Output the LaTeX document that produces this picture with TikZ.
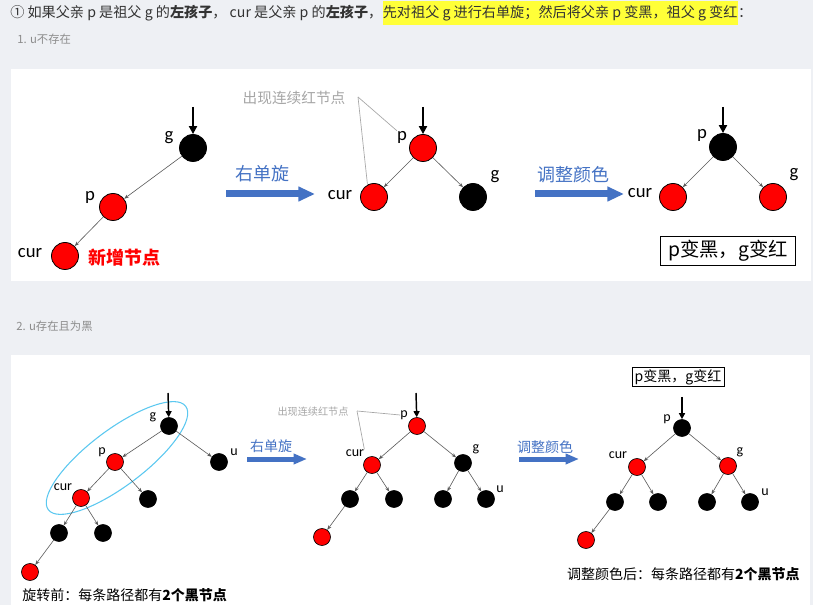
\documentclass[tikz,border=0pt]{standalone}
\usepackage{fontspec}
\setmainfont{Carlito}
\newfontfamily\cjk{Noto Sans CJK SC}
\usetikzlibrary{arrows.meta}
\definecolor{pagebg}{HTML}{EEF0F4}
\definecolor{rotblue}{HTML}{4472C4}
\definecolor{ringblue}{HTML}{5BC8F0}
\definecolor{notegray}{HTML}{A6A6A6}
\definecolor{hilite}{HTML}{FFFF38}
\definecolor{txtgray}{HTML}{333333}
\tikzset{
  big/.style={circle,draw=black,line width=0.6pt,inner sep=0pt,minimum size=20.25pt},
  small/.style={circle,draw=black,line width=0.5pt,inner sep=0pt,minimum size=12.75pt},
  edge/.style={draw=black!65,line width=0.45pt,-{Stealth[length=3.5pt,width=2.6pt]}},
  entry/.style={line width=1.4pt,-{Triangle[length=6pt,width=6pt]}},
  entrys/.style={line width=1.1pt,-{Triangle[length=4.5pt,width=4.5pt]}},
  rot/.style={draw=rotblue,line width=5.25pt,-{Triangle[length=12.5pt,width=10.5pt]}},
  rots/.style={draw=rotblue,line width=3.75pt,-{Triangle[length=10pt,width=7.5pt]}},
  labA/.style={font=\normalfont\fontsize{14}{14}\selectfont,inner sep=0pt},
  labB/.style={font=\normalfont\fontsize{10.5}{10.5}\selectfont,inner sep=0pt},
  note/.style={notegray,line width=0.5pt},
  hdr/.style={font=\cjk\fontsize{10.6}{12}\selectfont,text=txtgray,inner xsep=0pt},
}
\begin{document}
\begin{tikzpicture}[x=0.75pt,y=-0.75pt,font=\cjk]
\path[use as bounding box,fill=pagebg] (0,0) rectangle (813,605);
\fill[white] (11,69) rectangle (811,281);
\fill[white] (11,355) rectangle (810,605);

% heading lines
\node[hdr,anchor=west] (h1) at (10,13) {① 如果父亲 p 是祖父 g 的\textbf{左孩子}， cur 是父亲 p 的\textbf{左孩子}，};
\node[hdr,anchor=west,fill=hilite] (h2) at (h1.east) {先对祖父 g 进行右单旋；然后将父亲 p 变黑，祖父 g 变红};
\node[hdr,anchor=west] (h3) at (h2.east) {：};
\node[anchor=west,inner sep=0pt,text=black!45,font=\cjk\fontsize{8.5}{10}\selectfont] (s1) at (17,39) {1. u不存在};
\node[anchor=west,inner sep=0pt,text=black!45,font=\cjk\fontsize{8.5}{10}\selectfont] (s2) at (16,326) {2. u存在且为黑};

% case 1: u does not exist
\foreach \n/\x/\y/\c in {gA/193/148/black,pA/113/207/red,cA/65/256/red,
  pB/423/148/red,cB/374/197/red,gB/473/197/black,
  pC/723/147/black,cC/673/197/red,gC/773/197/red}
  \node[big,fill=\c] (\n) at (\x,\y) {};
\foreach \a/\b in {gA/pA,pA/cA,pB/cB,pB/gB,pC/cC,pC/gC}
  \draw[edge] (\a) -- (\b);
\foreach \n/\x/\y/\t in {lgA/169/138/g,lpA/90/197/p,lcA/30/253/cur,
  lpB/402/137/p,lcB/340/195/cur,lgB/495/177/g,
  lpC/702/135/p,lcC/640/193/cur,lgC/794/175/g}
  \node[labA] (\n) at (\x,\y) {\t};
\foreach \n/\x/\r in {A/193/gA,B/423/pB,C/723/pC}{
  \coordinate (in\n) at (\x,107);
  \draw[entry] (in\n) -- (\r);
}
\node[text=red,font=\cjk\bfseries\fontsize{13.5}{14}\selectfont,inner sep=0pt] (newA) at (124,258) {新增节点};
\node[text=notegray,font=\cjk\fontsize{11}{12}\selectfont,inner sep=0pt] (noteB) at (294,98) {出现连续红节点};
\coordinate (tipB) at (358,97);
\draw[note] (tipB) -- (cB.118);
\draw[note] (tipB) -- (lpB.north west);
\node[draw=black,line width=0.8pt,minimum width=101pt,minimum height=22pt,inner sep=0pt,
  font=\cjk\fontsize{14.5}{15}\selectfont] (boxC) at (728,251) {p变黑，g变红};

\coordinate (r1s) at (226,194); \coordinate (r1e) at (315,194);
\draw[rot] (r1s) -- (r1e);
\node[text=rotblue,font=\cjk\fontsize{13.5}{14}\selectfont,inner sep=0pt] (r1t) at (262,174) {右单旋};
\coordinate (r2s) at (535,194); \coordinate (r2e) at (624,194);
\draw[rot] (r2s) -- (r2e);
\node[text=rotblue,font=\cjk\fontsize{13.5}{14}\selectfont,inner sep=0pt] (r2t) at (573,175) {调整颜色};

% case 2: u exists and is black
\draw[ringblue,line width=0.8pt,rotate around={37:(117,458)}] (117,458) ellipse [x radius=86, y radius=28];
\foreach \n/\x/\y/\c in {gD/169/426/black,pD/115/462/red,uD/219/462/black,cD/81/498/red,
  sD/148/499/black,lD/59/533/black,rD/103/533/black,nD/30/572/red,
  pE/417/426/red,cE/372/465/red,gE/463/463/black,lE/350/499/black,
  rE/394/499/black,sE/443/499/black,uE/486/499/black,nE/322/537/red,
  pF/682/428/black,cF/637/467/red,gF/728/466/red,lF/615/502/black,
  rF/658/502/black,sF/707/502/black,uF/750/502/black,nF/586/540/red}
  \node[small,fill=\c] (\n) at (\x,\y) {};
\foreach \a/\b in {gD/pD,gD/uD,pD/cD,pD/sD,cD/lD,cD/rD,lD/nD,
  pE/cE,pE/gE,cE/lE,cE/rE,gE/sE,gE/uE,lE/nE,
  pF/cF,pF/gF,cF/lF,cF/rF,gF/sF,gF/uF,lF/nF}
  \draw[edge] (\a) -- (\b);
\foreach \n/\x/\y/\t in {lgD/153/417/g,lpD/102/452/p,luD/234/452/u,lcD/63/487/cur,
  lpE/404/415/p,lcE/355/453/cur,lgE/476/449/g,luE/500/489/u,
  lpF/667/419/p,lcF/618/455/cur,lgF/740/452/g,luF/765/492/u}
  \node[labB] (\n) at (\x,\y) {\t};
\coordinate (inD) at (168,393); \draw[entrys] (inD) -- (gD);
\coordinate (inE) at (416,393); \draw[entrys] (inE) -- (pE);
\coordinate (inF) at (682,397); \draw[entrys] (inF) -- (pF);
\node[text=notegray,font=\cjk\fontsize{7.6}{8}\selectfont,inner sep=0pt] (noteE) at (313,412) {出现连续红节点};
\coordinate (tipE) at (357,411);
\draw[note] (tipE) -- (lpE.west);
\draw[note] (tipE) -- (lcE.north east);
\node[draw=black,line width=0.7pt,minimum width=69pt,minimum height=14.5pt,inner sep=0pt,
  font=\cjk\fontsize{10.5}{11}\selectfont] (boxF) at (678,377) {p变黑，g变红};

\coordinate (r3s) at (247,459); \coordinate (r3e) at (307,459);
\draw[rots] (r3s) -- (r3e);
\node[text=rotblue,font=\cjk\fontsize{10.5}{11}\selectfont,inner sep=0pt] (r3t) at (271,446) {右单旋};
\coordinate (r4s) at (519,459); \coordinate (r4e) at (579,459);
\draw[rots] (r4s) -- (r4e);
\node[text=rotblue,font=\cjk\fontsize{10.5}{11}\selectfont,inner sep=0pt] (r4t) at (545,447) {调整颜色};

\node[anchor=west,inner sep=0pt,font=\cjk\fontsize{10.5}{11}\selectfont] (beforeD) at (22,595) {旋转前：每条路径都有\textbf{2个黑节点}};
\node[anchor=east,inner sep=0pt,font=\cjk\fontsize{10.5}{11}\selectfont] (afterF) at (800,574) {调整颜色后：每条路径都有\textbf{2个黑节点}};
\end{tikzpicture}
\end{document}
